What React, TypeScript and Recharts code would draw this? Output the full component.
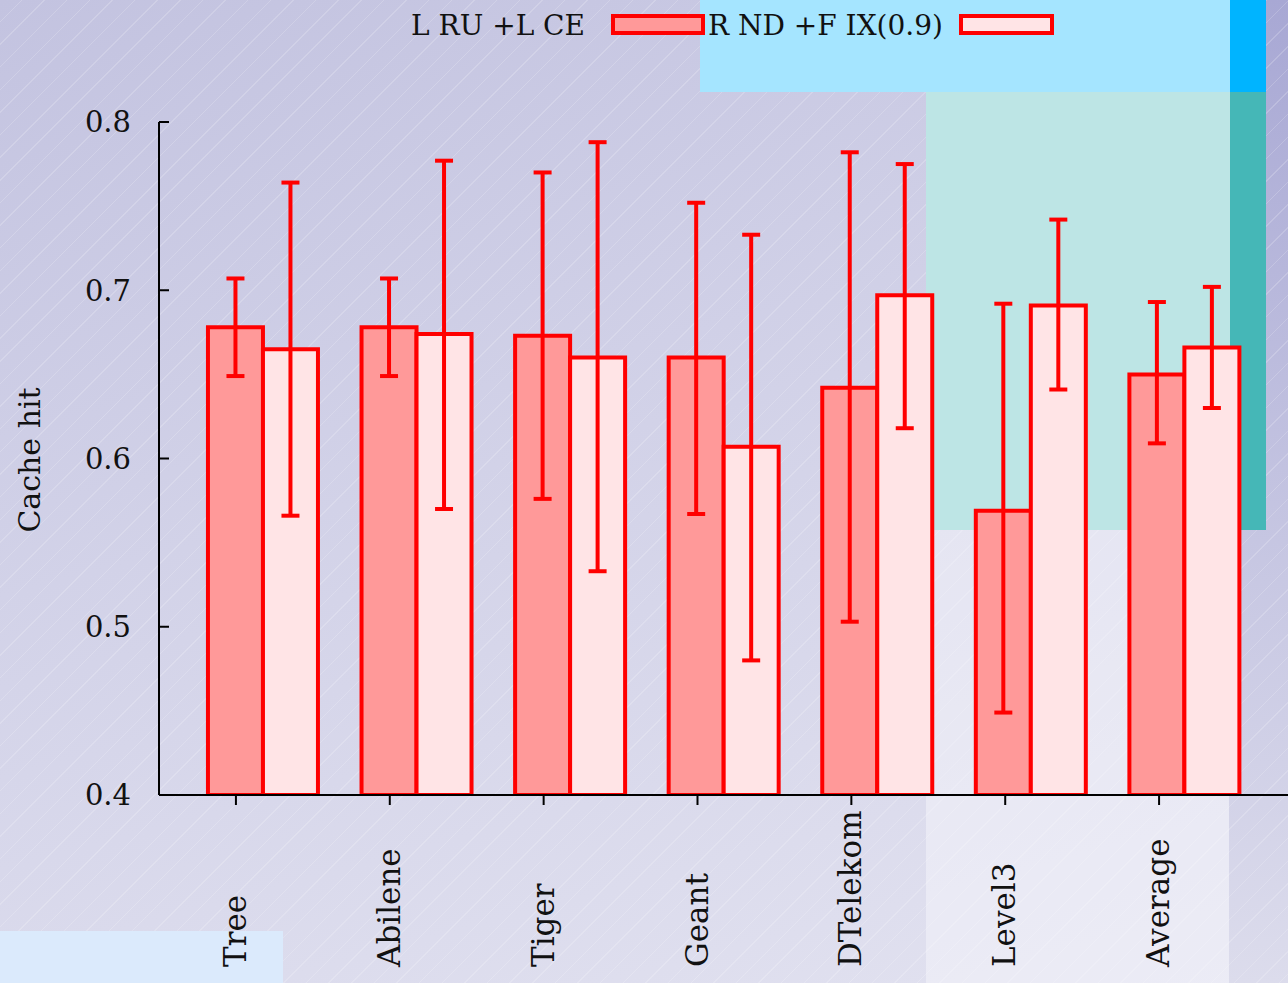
import { BarChart, Bar, XAxis, YAxis, ErrorBar } from 'recharts';

const topologies = ['Tree', 'Abilene', 'Tiger', 'Geant', 'DTelekom', 'Level3', 'Average'];

const lruLce = [0.678, 0.678, 0.673, 0.66, 0.642, 0.569, 0.65];
const lruLceLow = [0.649, 0.649, 0.576, 0.567, 0.503, 0.449, 0.609];
const lruLceHigh = [0.707, 0.707, 0.77, 0.752, 0.782, 0.692, 0.693];

const rndFix = [0.665, 0.674, 0.66, 0.607, 0.697, 0.691, 0.666];
const rndFixLow = [0.566, 0.57, 0.533, 0.48, 0.618, 0.641, 0.63];
const rndFixHigh = [0.764, 0.777, 0.788, 0.733, 0.775, 0.742, 0.702];

const yTicks = [0.4, 0.5, 0.6, 0.7, 0.8];

const data = topologies.map((name, i) => ({
  name,
  lru: lruLce[i],
  lruErr: [lruLce[i] - lruLceLow[i], lruLceHigh[i] - lruLce[i]],
  rnd: rndFix[i],
  rndErr: [rndFix[i] - rndFixLow[i], rndFixHigh[i] - rndFix[i]],
}));

const FONT = '"DejaVu Serif", serif';
const RED = '#ff0000';
const DARK = '#ff9999';
const LIGHT = '#ffe4e6';

// tick label sits tickMargin (28px) left of the frame; the tick mark points inward
const YTick = (props: any) => {
  const { x, y, payload } = props;
  return (
    <g>
      <line x1={x + 28} x2={x + 38} y1={y} y2={y} stroke="#000" strokeWidth={2} />
      <text x={x} y={y} dy="0.36em" textAnchor="end" fontFamily={FONT} fontSize={29} fill="#111">
        {payload.value.toFixed(1)}
      </text>
    </g>
  );
};

const XTick = (props: any) => {
  const { x, y, payload } = props;
  const tx = x + 10;
  const ty = y + 162;
  return (
    <text
      x={tx}
      y={ty}
      transform={`rotate(-90 ${tx} ${ty})`}
      textAnchor="start"
      fontFamily={FONT}
      fontSize={31}
      fill="#111"
    >
      {payload.value}
    </text>
  );
};

const box = (left: number, top: number, width: number, height: number, background: string) => (
  <div style={{ position: 'absolute', left, top, width, height, background }} />
);

export default function App() {
  return (
    <div
      style={{
        position: 'absolute',
        left: 0,
        top: 0,
        width: 1288,
        height: 983,
        overflow: 'hidden',
        background: 'linear-gradient(165deg, #c3c3e0 0%, #d2d2e8 45%, #e2e2f0 100%)',
        fontFamily: FONT,
      }}
    >
      {box(1229, 0, 59, 983, 'linear-gradient(180deg, #a8a8d4 0%, #c6c6e2 55%, #dcdcec 100%)')}
      <div
        style={{
          position: 'absolute',
          inset: 0,
          background:
            'repeating-linear-gradient(135deg, rgba(255,255,255,0) 0px, rgba(255,255,255,0) 15px, rgba(255,255,255,0.18) 15px, rgba(255,255,255,0.18) 16px)',
        }}
      />
      {box(700, 0, 530, 92, '#a5e5ff')}
      {box(1230, 0, 36, 92, '#00b4ff')}
      {box(926, 92, 304, 438, '#bde5e5')}
      {box(1230, 92, 36, 438, '#45b7b7')}
      {box(926, 530, 303, 453, 'rgba(248,248,252,0.45)')}
      {box(0, 931, 283, 52, '#dbeafc')}

      <div style={{ position: 'absolute', left: 0, top: 0 }}>
        <BarChart
          width={1300}
          height={983}
          data={data}
          margin={{ top: 122, right: 8, left: 0, bottom: 0 }}
          barCategoryGap="14.3%"
          barGap={0}
        >
          {/* the bar pairs sit half a bar to the right of each tick */}
          <XAxis xAxisId="bars" dataKey="name" hide padding={{ left: 27, right: 31 }} />
          <XAxis
            dataKey="name"
            height={188}
            padding={{ left: 0, right: 56 }}
            tickSize={10}
            tickMargin={0}
            axisLine={{ stroke: '#000', strokeWidth: 2 }}
            tickLine={{ stroke: '#000', strokeWidth: 2 }}
            tick={<XTick />}
            interval={0}
          />
          <XAxis
            xAxisId="top"
            dataKey="name"
            orientation="top"
            height={0}
            mirror
            padding={{ left: 0, right: 56 }}
            tickSize={10}
            axisLine={{ stroke: '#000', strokeWidth: 2 }}
            tickLine={{ stroke: '#000', strokeWidth: 2 }}
            tick={false}
            interval={0}
          />
          <YAxis
            width={159}
            domain={[0.4, 0.8]}
            ticks={yTicks}
            allowDataOverflow
            tickSize={0}
            tickMargin={28}
            axisLine={{ stroke: '#000', strokeWidth: 2 }}
            tickLine={false}
            tick={<YTick />}
          />
          <YAxis
            yAxisId="right"
            orientation="right"
            width={0}
            mirror
            domain={[0.4, 0.8]}
            ticks={yTicks}
            tickSize={10}
            axisLine={{ stroke: '#000', strokeWidth: 2 }}
            tickLine={{ stroke: '#000', strokeWidth: 2 }}
            tick={false}
          />
          <Bar xAxisId="bars" dataKey="lru" fill={DARK} stroke={RED} strokeWidth={4} isAnimationActive={false}>
            <ErrorBar dataKey="lruErr" width={9} stroke={RED} strokeWidth={4} isAnimationActive={false} />
          </Bar>
          <Bar xAxisId="bars" dataKey="rnd" fill={LIGHT} stroke={RED} strokeWidth={4} isAnimationActive={false}>
            <ErrorBar dataKey="rndErr" width={9} stroke={RED} strokeWidth={4} isAnimationActive={false} />
          </Bar>
        </BarChart>
      </div>

      {/* legend */}
      <svg width={1288} height={60} style={{ position: 'absolute', left: 0, top: 0 }}>
        <text x={585} y={35} textAnchor="end" fontFamily={FONT} fontSize={28} fill="#111">
          L RU +L CE
        </text>
        <rect x={613} y={16} width={90} height={17} fill={DARK} stroke={RED} strokeWidth={4} />
        <text x={708} y={35} textAnchor="start" fontFamily={FONT} fontSize={28} fill="#111">
          R ND +F IX(0.9)
        </text>
        <rect x={961} y={16} width={91} height={17} fill={LIGHT} stroke={RED} strokeWidth={4} />
      </svg>

      <svg width={60} height={983} style={{ position: 'absolute', left: 0, top: 0 }}>
        <text
          x={40}
          y={460}
          transform="rotate(-90 40 460)"
          textAnchor="middle"
          fontFamily={FONT}
          fontSize={30}
          fill="#111"
        >
          Cache hit
        </text>
      </svg>
    </div>
  );
}
